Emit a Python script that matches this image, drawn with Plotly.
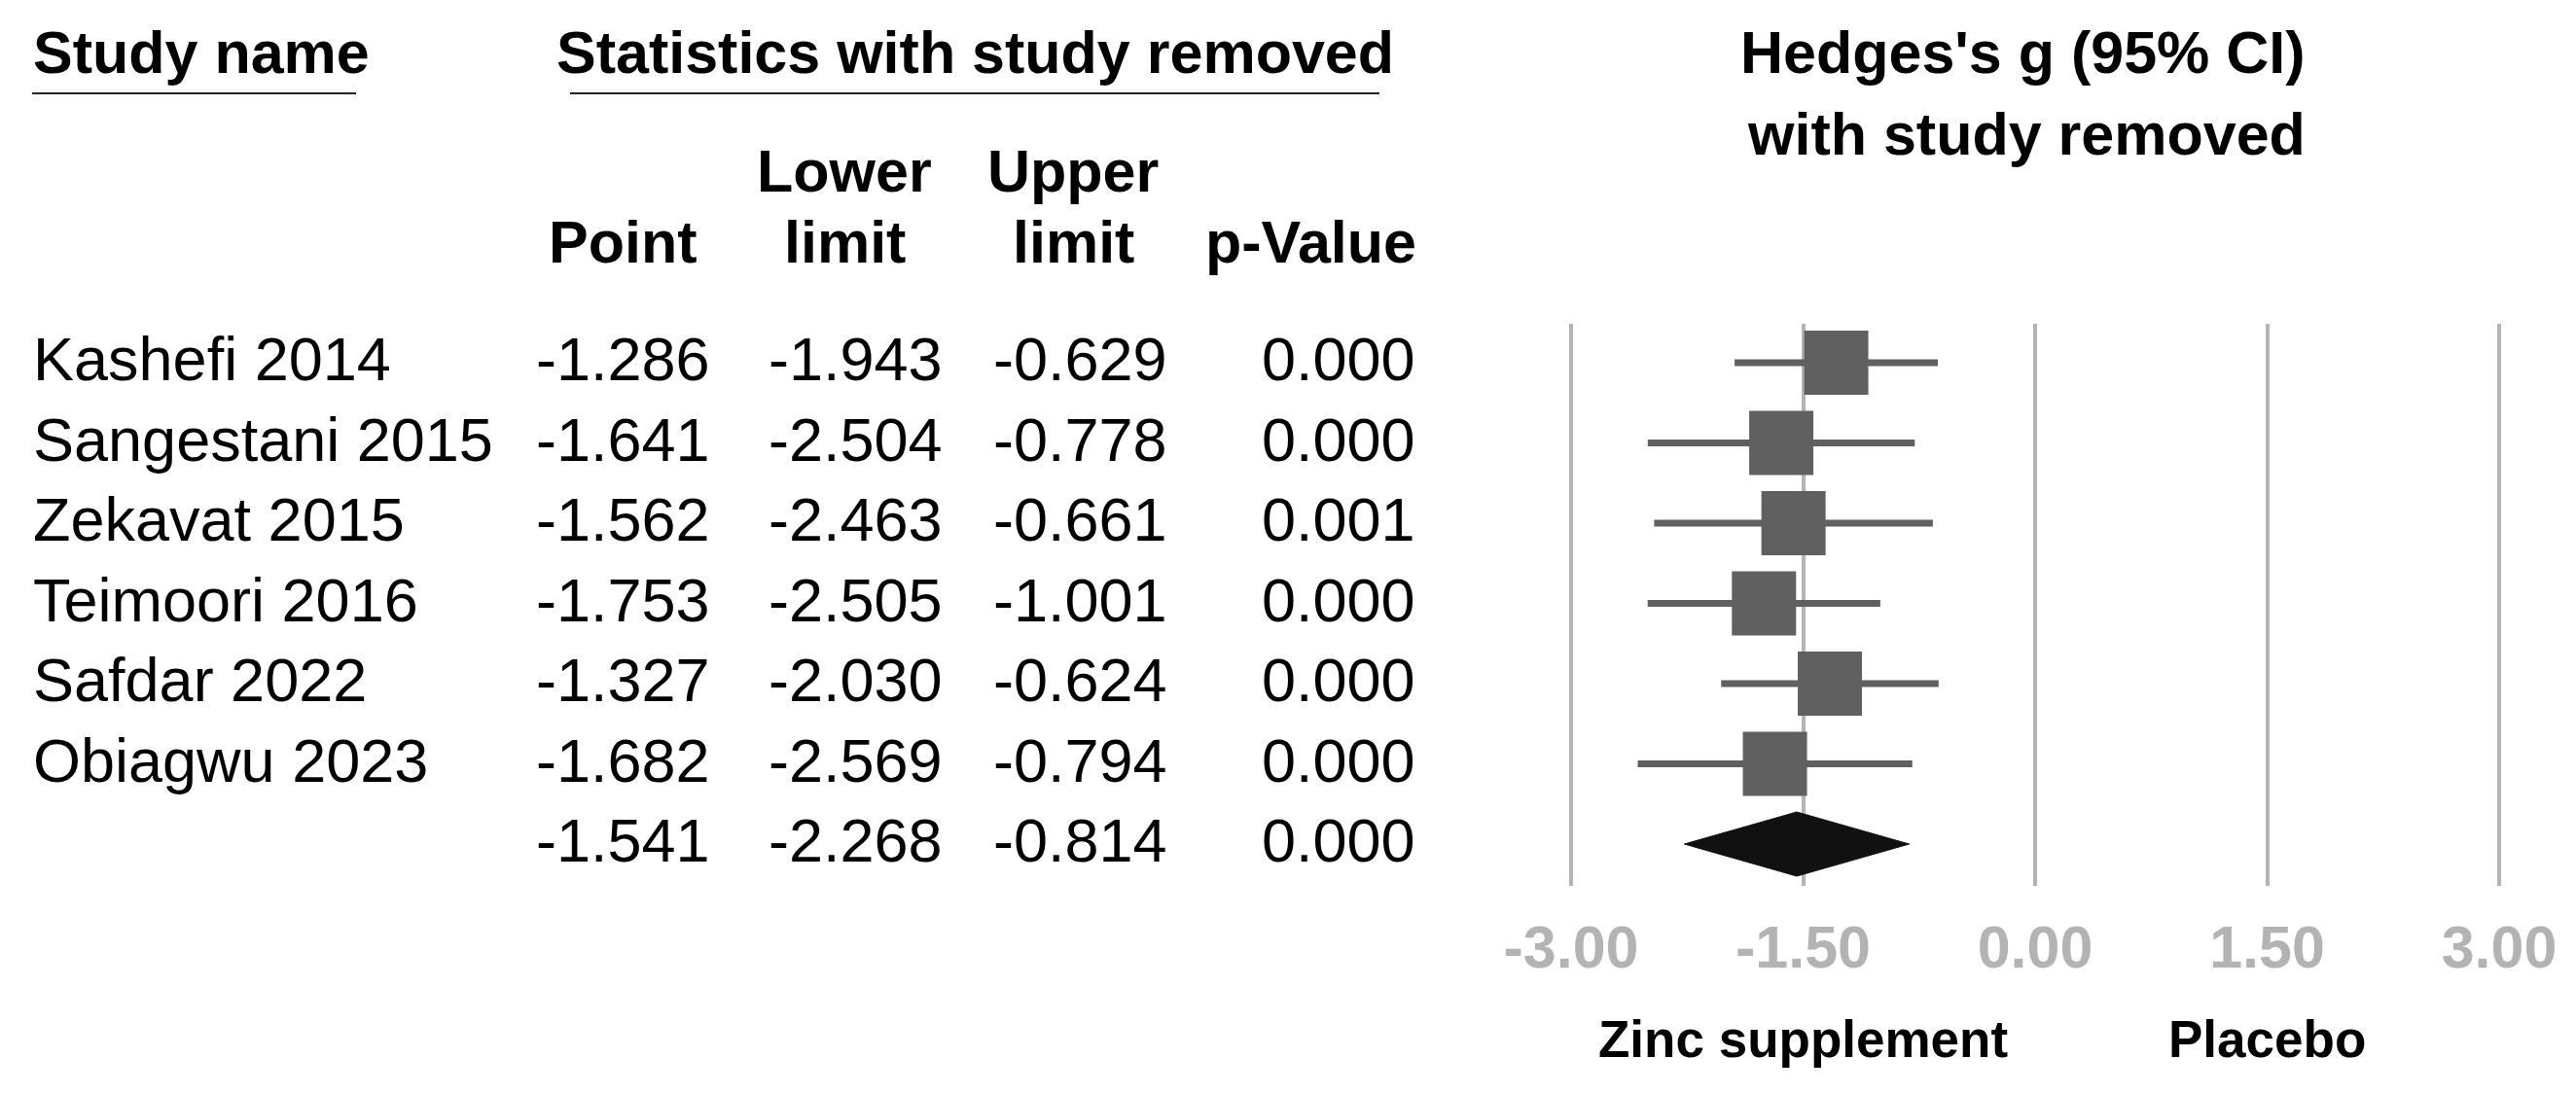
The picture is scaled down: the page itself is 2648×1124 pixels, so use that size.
import plotly.graph_objects as go

# ---------------- data ----------------
studies = ["Kashefi 2014", "Sangestani 2015", "Zekavat 2015", "Teimoori 2016",
           "Safdar 2022", "Obiagwu 2023"]
point = [-1.286, -1.641, -1.562, -1.753, -1.327, -1.682]
lower = [-1.943, -2.504, -2.463, -2.505, -2.030, -2.569]
upper = [-0.629, -0.778, -0.661, -1.001, -0.624, -0.794]
pvals = ["0.000", "0.000", "0.001", "0.000", "0.000", "0.000"]

summary_point = -1.541
summary_lower = -2.268
summary_upper = -0.814
summary_p = "0.000"

tick_vals = [-3.0, -1.5, 0.0, 1.5, 3.0]
tick_text = ["-3.00", "-1.50", "0.00", "1.50", "3.00"]

left_label = "Zinc supplement"
right_label = "Placebo"

# ---------------- geometry ----------------
W, H = 2648, 1124
PLOT_TOP, PLOT_BOT = 325, 903          # pixel rows of plot area (grid extent)
ROW0, ROW_STEP = 365.0, 82.5           # pixel centre of first row and row pitch
X_M3, X_P3 = 1607.0, 2561.0            # pixel x of -3 and +3
ppu = (X_P3 - X_M3) / 6.0
x_min = -3 - X_M3 / ppu
x_max = 3 + (W - X_P3) / ppu
y_top = (PLOT_TOP - ROW0) / ROW_STEP
y_bot = (PLOT_BOT - ROW0) / ROW_STEP

FONT = "Liberation Sans, Arial, sans-serif"
FS = 63      # body text
FSH = 61     # bold headers
TEXT_DY = -4 / ROW_STEP   # small upward nudge of row text relative to marks


def px_x(p):
    return p / W


def px_y(p):
    return (PLOT_BOT - p) / (PLOT_BOT - PLOT_TOP)


rows = list(range(len(studies)))
sum_row = len(studies)

fig = go.Figure()

# study squares with CI bars
fig.add_trace(go.Scatter(
    x=point, y=rows, mode="markers",
    marker=dict(symbol="square", size=66, color="#606060", line=dict(width=0)),
    error_x=dict(type="data", symmetric=False,
                 array=[u - p for u, p in zip(upper, point)],
                 arrayminus=[p - l for p, l in zip(point, lower)],
                 color="#606060", thickness=7, width=0),
    hoverinfo="skip", showlegend=False))

# summary diamond
dh = 33 / ROW_STEP
fig.add_trace(go.Scatter(
    x=[summary_lower, summary_point, summary_upper, summary_point, summary_lower],
    y=[sum_row, sum_row - dh, sum_row, sum_row + dh, sum_row],
    mode="lines", fill="toself", fillcolor="#111111",
    line=dict(color="#111111", width=1),
    hoverinfo="skip", showlegend=False))

ann = []


def head(text, x, ycap, anchor="center", size=FSH):
    ann.append(dict(text=text, x=px_x(x), y=px_y(ycap), xref="paper", yref="paper",
                    xanchor=anchor, yanchor="middle", showarrow=False,
                    font=dict(family=FONT, size=size, color="#000000", weight="bold")))


head("Study name", 24, 46, "left")
head("Statistics with study removed", 994, 46)
head("Hedges's g (95% CI)", 2071, 46)
head("with study removed", 2075, 130)
head("Lower", 860, 168)
head("Upper", 1095, 168)
head("Point", 632, 241)
head("limit", 860, 241)
head("limit", 1095, 241)
head("p-Value", 1340, 241)

# table body
col_right = [724, 963, 1194, 1449]
for i, name in enumerate(studies):
    ann.append(dict(text=name, x=px_x(24), y=i + TEXT_DY, xref="paper", yref="y",
                    xanchor="left", yanchor="middle", showarrow=False,
                    font=dict(family=FONT, size=FS, color="#000000")))
    vals = [f"{point[i]:.3f}", f"{lower[i]:.3f}", f"{upper[i]:.3f}", pvals[i]]
    for xr, v in zip(col_right, vals):
        ann.append(dict(text=v, x=px_x(xr), y=i + TEXT_DY, xref="paper", yref="y",
                        xanchor="right", yanchor="middle", showarrow=False,
                        font=dict(family=FONT, size=FS, color="#000000")))
sum_vals = [f"{summary_point:.3f}", f"{summary_lower:.3f}", f"{summary_upper:.3f}", summary_p]
for xr, v in zip(col_right, sum_vals):
    ann.append(dict(text=v, x=px_x(xr), y=sum_row + TEXT_DY, xref="paper", yref="y",
                    xanchor="right", yanchor="middle", showarrow=False,
                    font=dict(family=FONT, size=FS, color="#000000")))

# direction labels
for txt, xv in [(left_label, -1.5), (right_label, 1.5)]:
    ann.append(dict(text=txt, x=xv, y=px_y(1060), xref="x", yref="paper",
                    xanchor="center", yanchor="middle", showarrow=False,
                    font=dict(family=FONT, size=53, color="#000000", weight="bold")))

shapes = [
    dict(type="line", xref="paper", yref="paper", x0=px_x(25), x1=px_x(358),
         y0=px_y(88), y1=px_y(88), line=dict(color="#222222", width=2)),
    dict(type="line", xref="paper", yref="paper", x0=px_x(578), x1=px_x(1410),
         y0=px_y(88), y1=px_y(88), line=dict(color="#222222", width=2)),
]

fig.update_layout(
    width=W, height=H,
    margin=dict(l=0, r=0, t=PLOT_TOP, b=H - PLOT_BOT, pad=0),
    paper_bgcolor="white", plot_bgcolor="white",
    annotations=ann, shapes=shapes,
    xaxis=dict(range=[x_min, x_max], tickvals=tick_vals, ticktext=tick_text,
               showgrid=True, gridcolor="#b4b4b4", gridwidth=4,
               zeroline=False, showline=False, ticks="",
               ticklabelstandoff=22,
               tickfont=dict(family=FONT, size=FSH, color="#b3b3b3", weight="bold"),
               fixedrange=True),
    yaxis=dict(range=[y_bot, y_top], visible=False, showgrid=False,
               zeroline=False, fixedrange=True),
)

fig.write_html("out.html")
